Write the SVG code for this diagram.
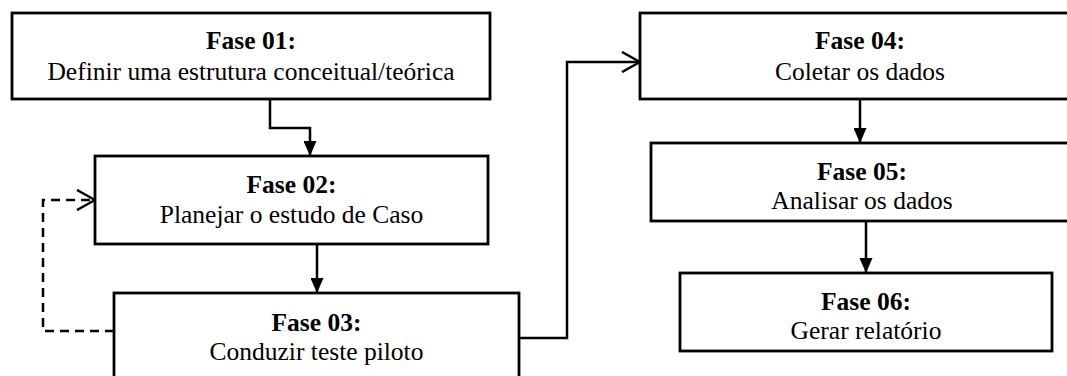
<svg xmlns="http://www.w3.org/2000/svg" width="1067" height="376" viewBox="0 0 1067 376">
<style>
.box{fill:#fff;stroke:#000;stroke-width:2.8}
.t{font-family:"Liberation Serif","Times New Roman",serif;font-size:25.5px;text-anchor:middle;fill:#000}
.b{font-weight:bold}
.c{fill:none;stroke:#000;stroke-width:2.5}
.d{stroke-dasharray:9,6}
</style>
<defs>
<marker id="tri" viewBox="0 0 15 13" refX="15" refY="6.5" markerWidth="15" markerHeight="13" markerUnits="userSpaceOnUse" orient="auto">
<path d="M0,0 L15,6.5 L0,13 Z" fill="#000"/>
</marker>
<marker id="open" viewBox="0 0 20 22" refX="19" refY="11" markerWidth="20" markerHeight="22" markerUnits="userSpaceOnUse" orient="auto">
<path d="M1,1 L19,11 L1,21" fill="none" stroke="#000" stroke-width="2.5"/>
</marker>
</defs>
<g id="connectors">
<path class="c" d="M270,99 V128 H310 V156" marker-end="url(#tri)"/>
<path class="c" d="M317,244 V293" marker-end="url(#tri)"/>
<path class="c d" d="M114,331 H43 V200 H95" marker-end="url(#open)"/>
<path class="c" d="M519,338 H567 V62 H640" marker-end="url(#open)"/>
<path class="c" d="M860,99 V143" marker-end="url(#tri)"/>
<path class="c" d="M866,221 V273" marker-end="url(#tri)"/>
</g>
<g id="fase01">
<rect class="box" x="12" y="13" width="478" height="86"/>
<text class="t b" x="251" y="49">Fase 01:</text>
<text class="t" x="251" y="80">Definir uma estrutura conceitual/teórica</text>
</g>
<g id="fase02">
<rect class="box" x="95" y="156" width="393" height="88"/>
<text class="t b" x="291.5" y="193">Fase 02:</text>
<text class="t" x="291.5" y="223">Planejar o estudo de Caso</text>
</g>
<g id="fase03">
<rect class="box" x="114" y="293" width="405" height="100"/>
<text class="t b" x="316.5" y="331">Fase 03:</text>
<text class="t" x="316.5" y="360">Conduzir teste piloto</text>
</g>
<g id="fase04">
<rect class="box" x="640" y="13" width="440" height="86"/>
<text class="t b" x="860" y="49">Fase 04:</text>
<text class="t" x="860" y="80">Coletar os dados</text>
</g>
<g id="fase05">
<rect class="box" x="651" y="143" width="422" height="78"/>
<text class="t b" x="862" y="180">Fase 05:</text>
<text class="t" x="862" y="209">Analisar os dados</text>
</g>
<g id="fase06">
<rect class="box" x="680" y="273" width="372" height="78"/>
<text class="t b" x="866" y="310">Fase 06:</text>
<text class="t" x="866" y="339">Gerar relatório</text>
</g>
</svg>
